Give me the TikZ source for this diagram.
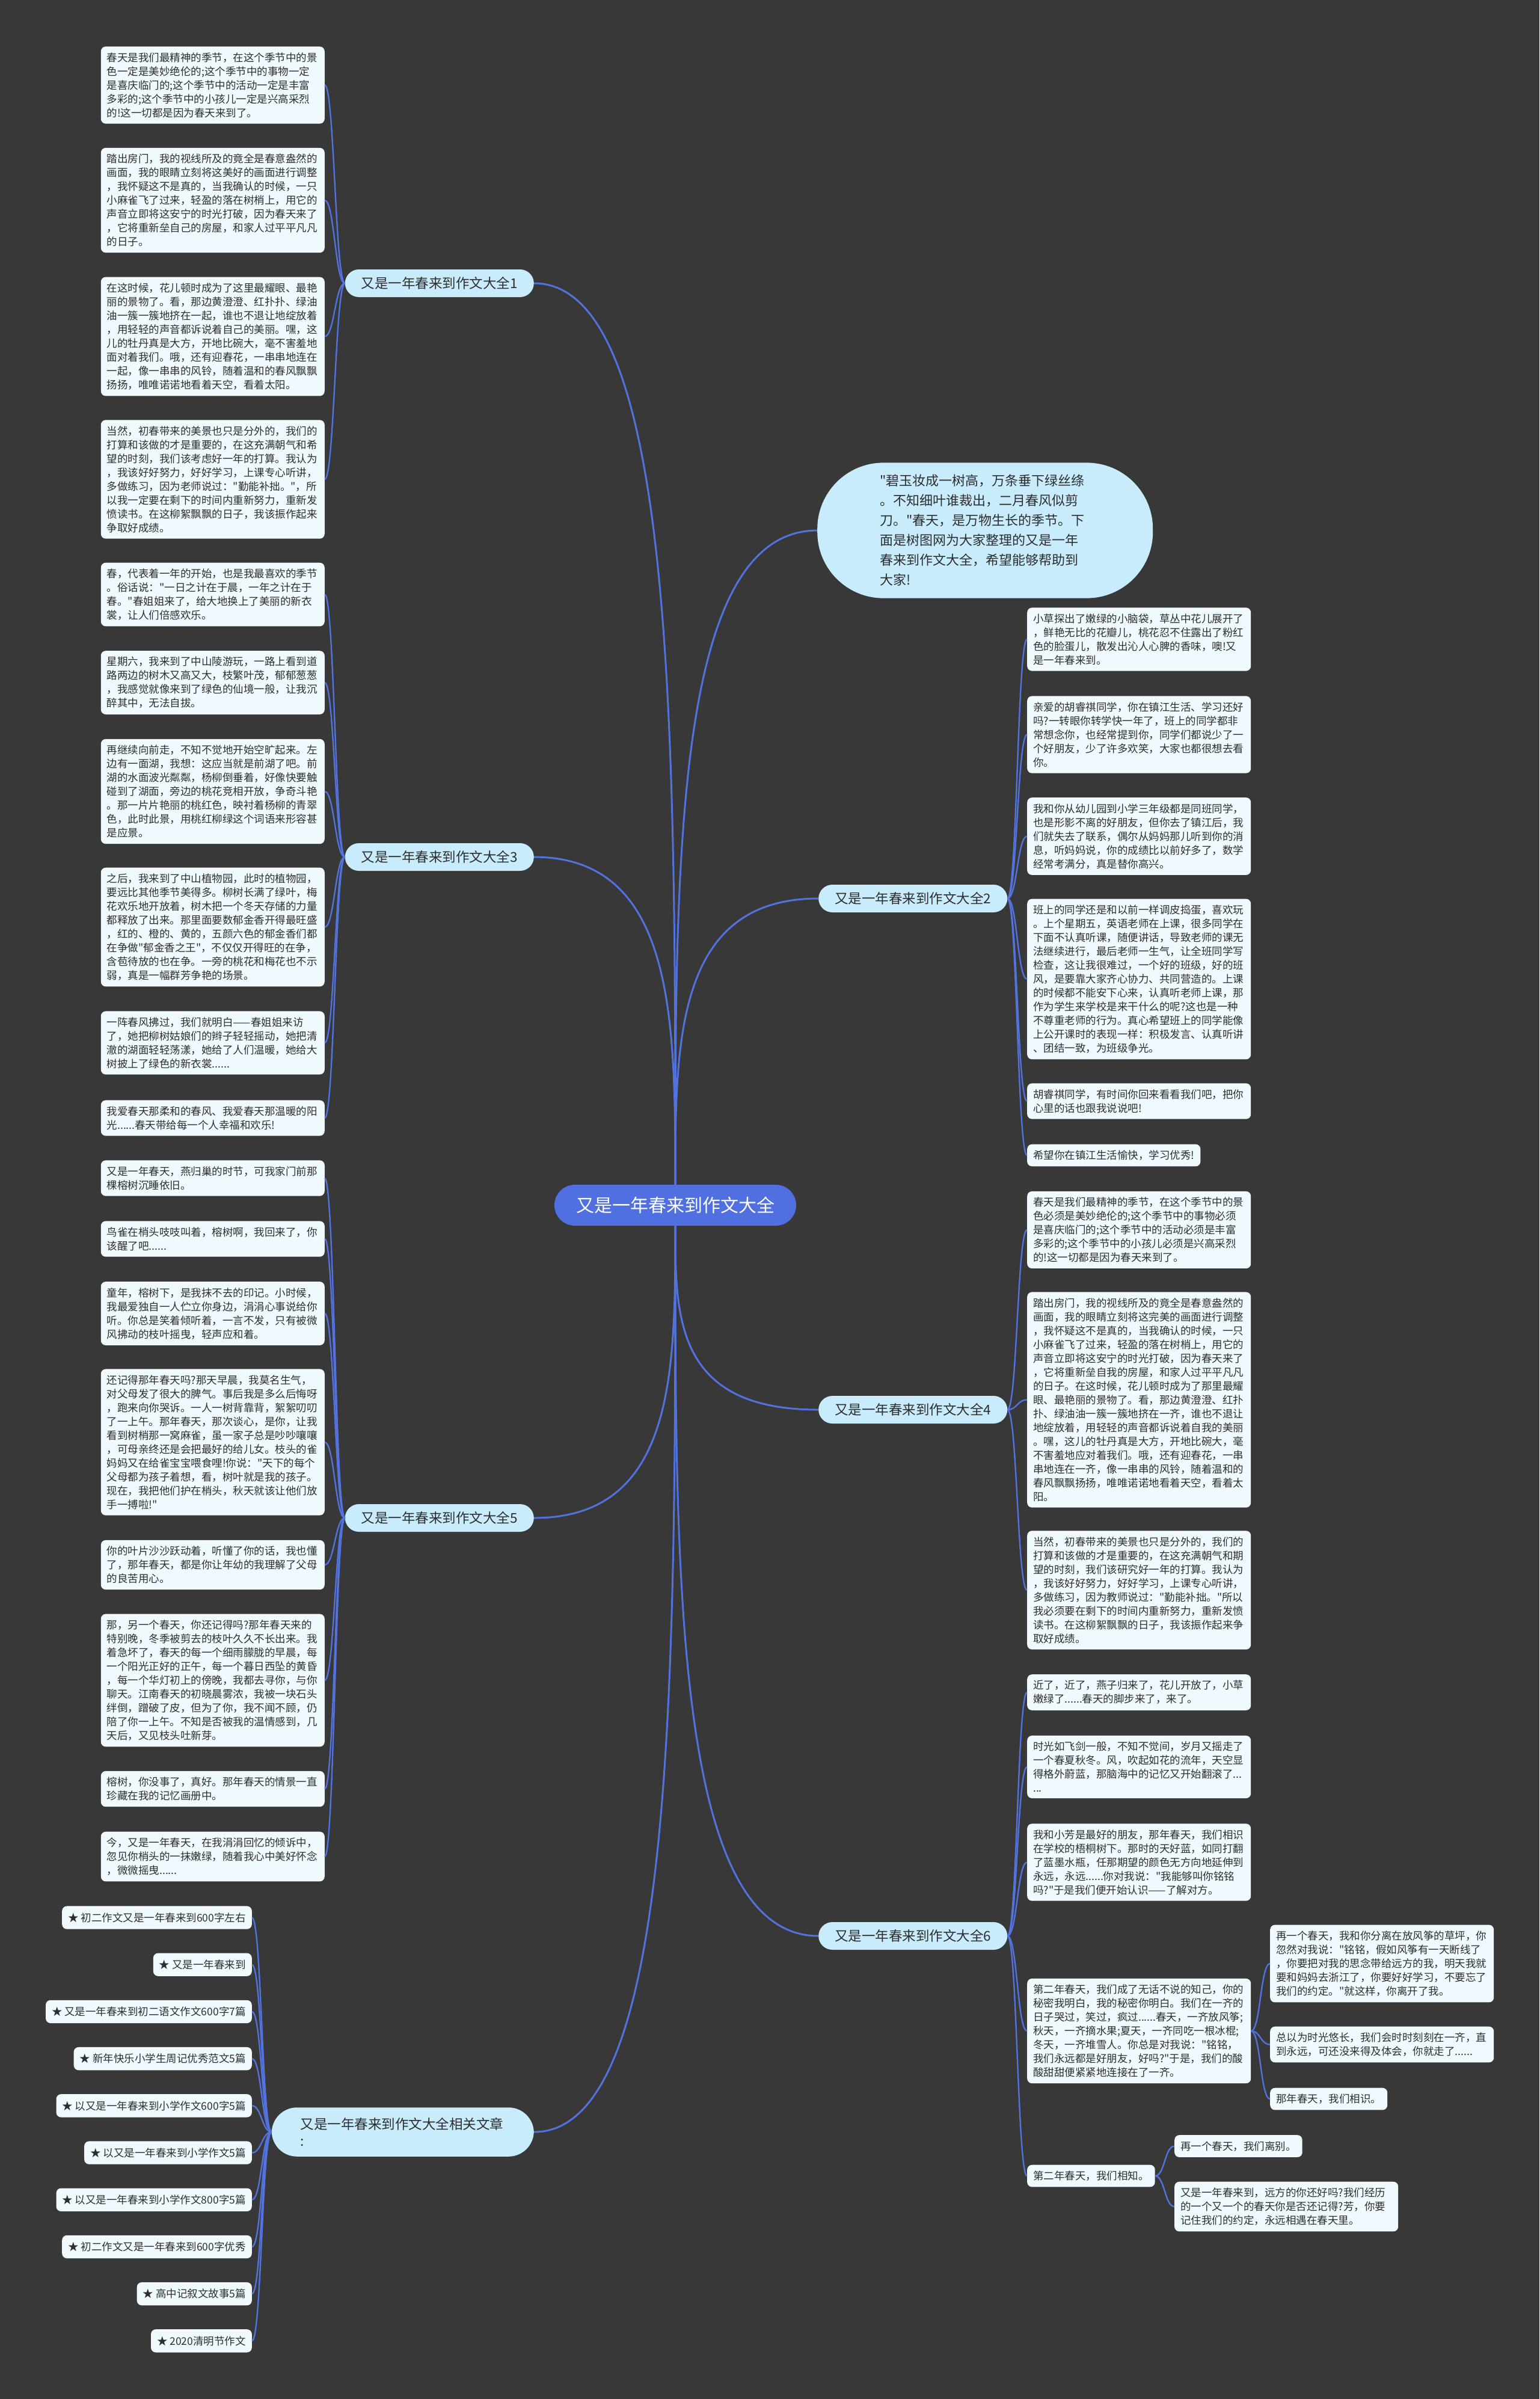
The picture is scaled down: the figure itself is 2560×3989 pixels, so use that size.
\documentclass[tikz,border=0pt]{standalone}
\usepackage{fontspec}
\newfontfamily\cjk{Noto Sans CJK SC}
\usetikzlibrary{calc}
\definecolor{bgdark}{RGB}{56,56,56}
\definecolor{hubblue}{RGB}{80,112,226}
\definecolor{linkblue}{RGB}{82,114,222}
\definecolor{branchfill}{RGB}{201,236,252}
\definecolor{leaffill}{RGB}{240,250,254}
\definecolor{ink}{RGB}{45,45,45}
\tikzset{
  hub/.style={fill=hubblue,text=white,rounded corners=34pt,minimum height=68pt,inner xsep=36pt,inner ysep=0pt,font=\cjk\fontsize{30}{36}\selectfont},
  branch/.style={fill=branchfill,text=ink,rounded corners=23pt,minimum height=46pt,inner xsep=27pt,inner ysep=0pt,font=\cjk\fontsize{22.5}{28}\selectfont},
  bubble/.style={fill=branchfill,text=ink,rounded corners=110pt,text width=350pt,align=left,inner xsep=104pt,inner ysep=20pt,font=\cjk\fontsize{22}{33}\selectfont},
  card/.style={fill=leaffill,text=ink,rounded corners=8pt,align=left,inner sep=10pt,font=\cjk\fontsize{17.5}{23}\selectfont},
  leaf/.style={card,text width=352pt},
  spoke/.style={draw=linkblue,line width=3pt,to path={.. controls ($(\tikztostart)!0.5!(\tikztostart|-\tikztotarget)$) and (\tikztostart|-\tikztotarget) .. (\tikztotarget)}},
  twigL/.style={draw=linkblue,line width=2.4pt,to path={.. controls +(-16,0) and +(16,0) .. (\tikztotarget)}},
  twigR/.style={draw=linkblue,line width=2.4pt,to path={.. controls +(16,0) and +(-16,0) .. (\tikztotarget)}}
}
\begin{document}
\begin{tikzpicture}[x=1pt,y=-1pt]
\fill[bgdark] (0,0) rectangle (2560,3989);
\useasboundingbox (0,0) rectangle (2560,3989);

% centre and main branches
\node[hub] (hub) at (1123,2004) {又是一年春来到作文大全};
\node[bubble,anchor=west] (intro) at (1359,882) {"碧玉妆成一树高，万条垂下绿丝绦\\。不知细叶谁裁出，二月春风似剪\\刀。"春天，是万物生长的季节。下\\面是树图网为大家整理的又是一年\\春来到作文大全，希望能够帮助到\\大家!};
\node[branch,anchor=east] (b1) at (888,471) {又是一年春来到作文大全1};
\node[branch,anchor=east] (b3) at (888,1425) {又是一年春来到作文大全3};
\node[branch,anchor=east] (b5) at (888,2524) {又是一年春来到作文大全5};
\node[branch,anchor=west] (b2) at (1361,1494) {又是一年春来到作文大全2};
\node[branch,anchor=west] (b4) at (1361,2344) {又是一年春来到作文大全4};
\node[branch,anchor=west] (b6) at (1361,3219) {又是一年春来到作文大全6};
\node[branch,anchor=east,align=left,text width=340pt,inner xsep=48pt,inner ysep=17pt,rounded corners=42pt] (rel) at (888,3545) {又是一年春来到作文大全相关文章\\:};

\draw[spoke] (hub.north) to (intro.west);
\draw[spoke] (hub.north) to (b1.east);
\draw[spoke] (hub.north) to (b2.west);
\draw[spoke] (hub.north) to (b3.east);
\draw[spoke] (hub.south) to (b4.west);
\draw[spoke] (hub.south) to (b5.east);
\draw[spoke] (hub.south) to (b6.west);
\draw[spoke] (hub.south) to (rel.east);

% branch 1
\node[leaf,anchor=east] (l1a) at (540,141.5) {春天是我们最精神的季节，在这个季节中的景\\色一定是美妙绝伦的;这个季节中的事物一定\\是喜庆临门的;这个季节中的活动一定是丰富\\多彩的;这个季节中的小孩儿一定是兴高采烈\\的!这一切都是因为春天来到了。};
\node[leaf,anchor=east] (l1b) at (540,333) {踏出房门，我的视线所及的竟全是春意盎然的\\画面，我的眼睛立刻将这美好的画面进行调整\\，我怀疑这不是真的，当我确认的时候，一只\\小麻雀飞了过来，轻盈的落在树梢上，用它的\\声音立即将这安宁的时光打破，因为春天来了\\，它将重新垒自己的房屋，和家人过平平凡凡\\的日子。};
\node[leaf,anchor=east] (l1c) at (540,559.5) {在这时候，花儿顿时成为了这里最耀眼、最艳\\丽的景物了。看，那边黄澄澄、红扑扑、绿油\\油一簇一簇地挤在一起，谁也不退让地绽放着\\，用轻轻的声音都诉说着自己的美丽。嘿，这\\儿的牡丹真是大方，开地比碗大，毫不害羞地\\面对着我们。哦，还有迎春花，一串串地连在\\一起，像一串串的风铃，随着温和的春风飘飘\\扬扬，唯唯诺诺地看着天空，看着太阳。};
\node[leaf,anchor=east] (l1d) at (540,797) {当然，初春带来的美景也只是分外的，我们的\\打算和该做的才是重要的，在这充满朝气和希\\望的时刻，我们该考虑好一年的打算。我认为\\，我该好好努力，好好学习，上课专心听讲，\\多做练习，因为老师说过："勤能补拙。"，所\\以我一定要在剩下的时间内重新努力，重新发\\愤读书。在这柳絮飘飘的日子，我该振作起来\\争取好成绩。};
\foreach \l in {l1a,l1b,l1c,l1d}
  \draw[twigL] (b1.west) to (\l.east);

% branch 3
\node[leaf,anchor=east] (l3a) at (540,988.5) {春，代表着一年的开始，也是我最喜欢的季节\\。俗话说："一日之计在于晨，一年之计在于\\春。"春姐姐来了，给大地换上了美丽的新衣\\裳，让人们倍感欢乐。};
\node[leaf,anchor=east] (l3b) at (540,1135) {星期六，我来到了中山陵游玩，一路上看到道\\路两边的树木又高又大，枝繁叶茂，郁郁葱葱\\，我感觉就像来到了绿色的仙境一般，让我沉\\醉其中，无法自拔。};
\node[leaf,anchor=east] (l3c) at (540,1316) {再继续向前走，不知不觉地开始空旷起来。左\\边有一面湖，我想：这应当就是前湖了吧。前\\湖的水面波光粼粼，杨柳倒垂着，好像快要触\\碰到了湖面，旁边的桃花竞相开放，争奇斗艳\\。那一片片艳丽的桃红色，映衬着杨柳的青翠\\色，此时此景，用桃红柳绿这个词语来形容甚\\是应景。};
\node[leaf,anchor=east] (l3d) at (540,1541.5) {之后，我来到了中山植物园，此时的植物园，\\要远比其他季节美得多。柳树长满了绿叶，梅\\花欢乐地开放着，树木把一个冬天存储的力量\\都释放了出来。那里面要数郁金香开得最旺盛\\，红的、橙的、黄的，五颜六色的郁金香们都\\在争做"郁金香之王"，不仅仅开得旺的在争，\\含苞待放的也在争。一旁的桃花和梅花也不示\\弱，真是一幅群芳争艳的场景。};
\node[leaf,anchor=east] (l3e) at (540,1734) {一阵春风拂过，我们就明白——春姐姐来访\\了，她把柳树姑娘们的辫子轻轻摇动，她把清\\澈的湖面轻轻荡漾，她给了人们温暖，她给大\\树披上了绿色的新衣裳......};
\node[leaf,anchor=east] (l3f) at (540,1859) {我爱春天那柔和的春风、我爱春天那温暖的阳\\光......春天带给每一个人幸福和欢乐!};
\foreach \l in {l3a,l3b,l3c,l3d,l3e,l3f}
  \draw[twigL] (b3.west) to (\l.east);

% branch 5
\node[leaf,anchor=east] (l5a) at (540,1959) {又是一年春天，燕归巢的时节，可我家门前那\\棵榕树沉睡依旧。};
\node[leaf,anchor=east] (l5b) at (540,2060) {鸟雀在梢头吱吱叫着，榕树啊，我回来了，你\\该醒了吧......};
\node[leaf,anchor=east] (l5c) at (540,2184) {童年，榕树下，是我抹不去的印记。小时候，\\我最爱独自一人伫立你身边，涓涓心事说给你\\听。你总是笑着倾听着，一言不发，只有被微\\风拂动的枝叶摇曳，轻声应和着。};
\node[leaf,anchor=east] (l5d) at (540,2398) {还记得那年春天吗?那天早晨，我莫名生气，\\对父母发了很大的脾气。事后我是多么后悔呀\\，跑来向你哭诉。一人一树背靠背，絮絮叨叨\\了一上午。那年春天，那次谈心，是你，让我\\看到树梢那一窝麻雀，虽一家子总是吵吵嚷嚷\\，可母亲终还是会把最好的给儿女。枝头的雀\\妈妈又在给雀宝宝喂食哩!你说："天下的每个\\父母都为孩子着想，看，树叶就是我的孩子。\\现在，我把他们护在梢头，秋天就该让他们放\\手一搏啦!"};
\node[leaf,anchor=east] (l5e) at (540,2602) {你的叶片沙沙跃动着，听懂了你的话，我也懂\\了，那年春天，都是你让年幼的我理解了父母\\的良苦用心。};
\node[leaf,anchor=east] (l5f) at (540,2794) {那，另一个春天，你还记得吗?那年春天来的\\特别晚，冬季被剪去的枝叶久久不长出来。我\\着急坏了，春天的每一个细雨朦胧的早晨，每\\一个阳光正好的正午，每一个暮日西坠的黄昏\\，每一个华灯初上的傍晚，我都去寻你，与你\\聊天。江南春天的初晓晨雾浓，我被一块石头\\绊倒，蹭破了皮，但为了你，我不闻不顾，仍\\陪了你一上午。不知是否被我的温情感到，几\\天后，又见枝头吐新芽。};
\node[leaf,anchor=east] (l5g) at (540,2974.5) {榕树，你没事了，真好。那年春天的情景一直\\珍藏在我的记忆画册中。};
\node[leaf,anchor=east] (l5h) at (540,3087) {今，又是一年春天，在我涓涓回忆的倾诉中，\\忽见你梢头的一抹嫩绿，随着我心中美好怀念\\，微微摇曳......};
\foreach \l in {l5a,l5b,l5c,l5d,l5e,l5f,l5g,l5h}
  \draw[twigL] (b5.west) to (\l.east);

% branch 2
\node[leaf,anchor=west] (r2a) at (1708,1063) {小草探出了嫩绿的小脑袋，草丛中花儿展开了\\，鲜艳无比的花瓣儿，桃花忍不住露出了粉红\\色的脸蛋儿，散发出沁人心脾的香味，噢!又\\是一年春来到。};
\node[leaf,anchor=west] (r2b) at (1708,1221.5) {亲爱的胡睿祺同学，你在镇江生活、学习还好\\吗?一转眼你转学快一年了，班上的同学都非\\常想念你，也经常提到你，同学们都说少了一\\个好朋友，少了许多欢笑，大家也都很想去看\\你。};
\node[leaf,anchor=west] (r2c) at (1708,1390.5) {我和你从幼儿园到小学三年级都是同班同学，\\也是形影不离的好朋友，但你去了镇江后，我\\们就失去了联系，偶尔从妈妈那儿听到你的消\\息，听妈妈说，你的成绩比以前好多了，数学\\经常考满分，真是替你高兴。};
\node[leaf,anchor=west] (r2d) at (1708,1628) {班上的同学还是和以前一样调皮捣蛋，喜欢玩\\。上个星期五，英语老师在上课，很多同学在\\下面不认真听课，随便讲话，导致老师的课无\\法继续进行，最后老师一生气，让全班同学写\\检查，这让我很难过，一个好的班级，好的班\\风，是要靠大家齐心协力、共同营造的。上课\\的时候都不能安下心来，认真听老师上课，那\\作为学生来学校是来干什么的呢?这也是一种\\不尊重老师的行为。真心希望班上的同学能像\\上公开课时的表现一样：积极发言、认真听讲\\、团结一致，为班级争光。};
\node[leaf,anchor=west] (r2e) at (1708,1831) {胡睿祺同学，有时间你回来看看我们吧，把你\\心里的话也跟我说说吧!};
\node[card,anchor=west] (r2f) at (1708,1921) {希望你在镇江生活愉快，学习优秀!};
\foreach \l in {r2a,r2b,r2c,r2d,r2e,r2f}
  \draw[twigR] (b2.east) to (\l.west);

% branch 4
\node[leaf,anchor=west] (r4a) at (1708,2045) {春天是我们最精神的季节，在这个季节中的景\\色必须是美妙绝伦的;这个季节中的事物必须\\是喜庆临门的;这个季节中的活动必须是丰富\\多彩的;这个季节中的小孩儿必须是兴高采烈\\的!这一切都是因为春天来到了。};
\node[leaf,anchor=west] (r4b) at (1708,2327.5) {踏出房门，我的视线所及的竟全是春意盎然的\\画面，我的眼睛立刻将这完美的画面进行调整\\，我怀疑这不是真的，当我确认的时候，一只\\小麻雀飞了过来，轻盈的落在树梢上，用它的\\声音立即将这安宁的时光打破，因为春天来了\\，它将重新垒自我的房屋，和家人过平平凡凡\\的日子。在这时候，花儿顿时成为了那里最耀\\眼、最艳丽的景物了。看，那边黄澄澄、红扑\\扑、绿油油一簇一簇地挤在一齐，谁也不退让\\地绽放着，用轻轻的声音都诉说着自我的美丽\\。嘿，这儿的牡丹真是大方，开地比碗大，毫\\不害羞地应对着我们。哦，还有迎春花，一串\\串地连在一齐，像一串串的风铃，随着温和的\\春风飘飘扬扬，唯唯诺诺地看着天空，看着太\\阳。};
\node[leaf,anchor=west] (r4c) at (1708,2644) {当然，初春带来的美景也只是分外的，我们的\\打算和该做的才是重要的，在这充满朝气和期\\望的时刻，我们该研究好一年的打算。我认为\\，我该好好努力，好好学习，上课专心听讲，\\多做练习，因为教师说过："勤能补拙。"所以\\我必须要在剩下的时间内重新努力，重新发愤\\读书。在这柳絮飘飘的日子，我该振作起来争\\取好成绩。};
\foreach \l in {r4a,r4b,r4c}
  \draw[twigR] (b4.east) to (\l.west);

% branch 6
\node[leaf,anchor=west] (r6a) at (1708,2814) {近了，近了，燕子归来了，花儿开放了，小草\\嫩绿了......春天的脚步来了，来了。};
\node[leaf,anchor=west] (r6b) at (1708,2938) {时光如飞剑一般，不知不觉间，岁月又摇走了\\一个春夏秋冬。风，吹起如花的流年，天空显\\得格外蔚蓝，那脑海中的记忆又开始翻滚了...\\...};
\node[leaf,anchor=west] (r6c) at (1708,3096.5) {我和小芳是最好的朋友，那年春天，我们相识\\在学校的梧桐树下。那时的天好蓝，如同打翻\\了蓝墨水瓶，任那期望的颜色无方向地延伸到\\永远，永远......你对我说："我能够叫你铭铭\\吗?"于是我们便开始认识——了解对方。};
\node[leaf,anchor=west] (r6d) at (1708,3377) {第二年春天，我们成了无话不说的知己，你的\\秘密我明白，我的秘密你明白。我们在一齐的\\日子哭过，笑过，疯过......春天，一齐放风筝;\\秋天，一齐摘水果;夏天，一齐同吃一根冰棍;\\冬天，一齐堆雪人。你总是对我说："铭铭，\\我们永远都是好朋友，好吗?"于是，我们的酸\\酸甜甜便紧紧地连接在了一齐。};
\node[card,anchor=west] (r6e) at (1708,3618) {第二年春天，我们相知。};
\foreach \l in {r6a,r6b,r6c,r6d,r6e}
  \draw[twigR] (b6.east) to (\l.west);

\node[leaf,anchor=west] (s1) at (2112,3265) {再一个春天，我和你分离在放风筝的草坪，你\\忽然对我说："铭铭，假如风筝有一天断线了\\，你要把对我的思念带给远方的我，明天我就\\要和妈妈去浙江了，你要好好学习，不要忘了\\我们的约定。"就这样，你离开了我。};
\node[leaf,anchor=west] (s2) at (2112,3399.5) {总以为时光悠长，我们会时时刻刻在一齐，直\\到永远，可还没来得及体会，你就走了......};
\node[card,anchor=west] (s3) at (2112,3490) {那年春天，我们相识。};
\foreach \l in {s1,s2,s3}
  \draw[twigR] (r6d.east) to (\l.west);
\node[card,anchor=west] (s4) at (1953,3568.5) {再一个春天，我们离别。};
\node[leaf,anchor=west] (s5) at (1953,3669) {又是一年春来到，远方的你还好吗?我们经历\\的一个又一个的春天你是否还记得?芳，你要\\记住我们的约定，永远相遇在春天里。};
\foreach \l in {s4,s5}
  \draw[twigR] (r6e.east) to (\l.west);

% related articles
\foreach \t [count=\i] in {初二作文又是一年春来到600字左右,又是一年春来到,又是一年春来到初二语文作文600字7篇,新年快乐小学生周记优秀范文5篇,以又是一年春来到小学作文600字5篇,以又是一年春来到小学作文5篇,以又是一年春来到小学作文800字5篇,初二作文又是一年春来到600字优秀,高中记叙文故事5篇,2020清明节作文}{
  \node[card,anchor=east,inner ysep=11pt] (a\i) at (419,{3188.5+78.2*(\i-1)}) {★ \t};
  \draw[twigL] (rel.west) to (a\i.east);
}
\end{tikzpicture}
\end{document}
